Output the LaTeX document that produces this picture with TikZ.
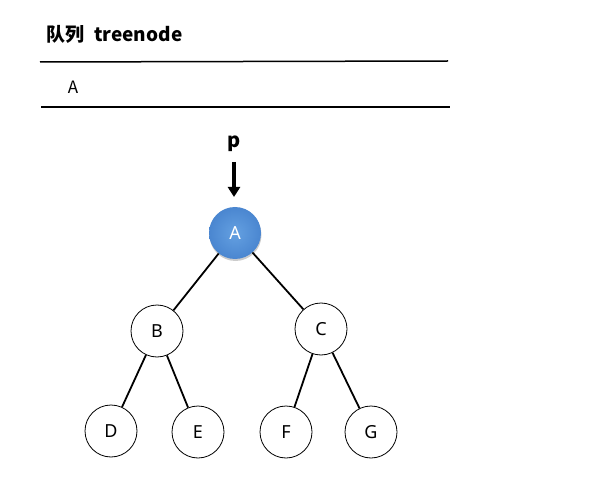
\documentclass[tikz,border=0pt]{standalone}
\usepackage{fontspec}
\setmainfont{Noto Sans}
\newfontfamily\cjk{Noto Sans CJK SC}
\usetikzlibrary{arrows.meta,shadows}
\definecolor{nodeblue}{RGB}{74,134,208}
\tikzset{
  tnode/.style={circle,draw=black,line width=0.8pt,minimum size=52pt,inner sep=0pt,font=\fontsize{18}{18}\selectfont,fill=white},
  rootnode/.style={circle,draw=none,minimum size=52pt,inner sep=0pt,font=\fontsize{18}{18}\selectfont,text=white,
    inner color={rgb,255:red,100;green,160;blue,225},outer color=nodeblue,
    drop shadow={shadow xshift=0.5pt,shadow yshift=-2pt,fill=black!50,opacity=0.4}},
  edge/.style={line width=1.8pt},
  rule/.style={line width=1.5pt}
}
\begin{document}
\begin{tikzpicture}[x=1pt,y=-1pt]
\useasboundingbox (0,0) rectangle (605,497);
\node[anchor=west,inner sep=0pt,font=\cjk\bfseries\fontsize{19}{19}\selectfont] (title) at (46,34) {队列\hspace{10pt}treenode};
\coordinate (r1a) at (40,62); \coordinate (r1b) at (448,61);
\coordinate (r2a) at (41,107); \coordinate (r2b) at (450,107);
\draw[rule] (r1a) -- (r1b);
\draw[rule] (r2a) -- (r2b);
\node[font=\cjk\fontsize{17}{17}\selectfont] (qa) at (73,87) {A};
\node[font=\cjk\bfseries\fontsize{20}{20}\selectfont] (p) at (234,144) {p};
\node[rootnode] (A) at (235,233) {A};
\node[tnode] (B) at (157,331) {B};
\node[tnode] (C) at (321,329) {C};
\node[tnode] (D) at (111,431) {D};
\node[tnode] (E) at (198,432) {E};
\node[tnode] (F) at (286,432) {F};
\node[tnode] (G) at (371,432) {G};
\coordinate (pa) at (234,162);
\coordinate (pb) at (234,197);
\draw[line width=3.2pt,-{Triangle[length=10pt,width=12pt]}] (pa) -- (pb);
\draw[edge] (A) -- (B);
\draw[edge] (A) -- (C);
\draw[edge] (B) -- (D);
\draw[edge] (B) -- (E);
\draw[edge] (C) -- (F);
\draw[edge] (C) -- (G);
\end{tikzpicture}
\end{document}
